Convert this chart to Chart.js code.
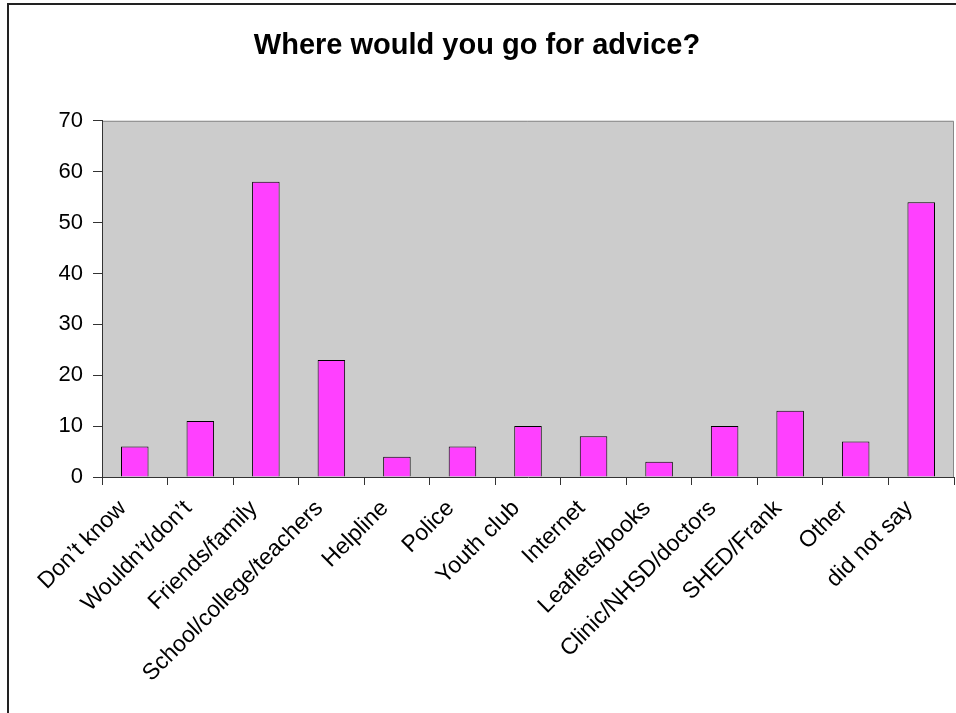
<!DOCTYPE html>
<html>
<head>
<meta charset="utf-8">
<script src="https://cdn.jsdelivr.net/npm/chart.js@4"></script>
<style>
  body { margin: 0; background: #fff; }
  #wrap { position: relative; width: 956px; height: 713px; }
  #frame { position: absolute; left: 7px; top: 3px; width: 960px; height: 720px;
           border-left: 2px solid #222; border-top: 2px solid #222; box-sizing: border-box; }
</style>
</head>
<body>
<div id="wrap">
  <div id="frame"></div>
  <canvas id="myChart" width="956" height="713"></canvas>
</div>
<script>
const categories = ["Don\u2019t know", "Wouldn\u2019t/don\u2019t", "Friends/family", "School/college/teachers",
  "Helpline", "Police", "Youth club", "Internet", "Leaflets/books", "Clinic/NHSD/doctors",
  "SHED/Frank", "Other", "did not say"];
const counts = [6, 11, 58, 23, 4, 6, 10, 8, 3, 10, 13, 7, 54];
const yTicks = [0, 10, 20, 30, 40, 50, 60, 70];

const font = "Arial, 'Liberation Sans', sans-serif";

// gray plot area with a thin gray top/right edge
const plotBg = {
  id: 'plotBg',
  beforeDraw(chart) {
    const {ctx, chartArea: a} = chart;
    ctx.save();
    ctx.fillStyle = '#cccccc';
    ctx.fillRect(a.left, a.top, a.right - a.left, a.bottom - a.top);
    ctx.strokeStyle = '#888888';
    ctx.lineWidth = 1;
    ctx.beginPath();
    ctx.moveTo(a.left, a.top + 0.5);
    ctx.lineTo(a.right - 0.5, a.top + 0.5);
    ctx.lineTo(a.right - 0.5, a.bottom);
    ctx.stroke();
    ctx.restore();
  }
};

const ctx = document.getElementById('myChart');

new Chart(ctx, {
  type: 'bar',
  data: {
    labels: categories,
    datasets: [{
      data: counts,
      backgroundColor: '#ff40ff',
      borderColor: '#000000',
      borderWidth: 1,
      categoryPercentage: 1,
      barPercentage: 0.42
    }]
  },
  options: {
    responsive: false,
    animation: false,
    layout: { padding: { left: 0, right: 2, top: 0, bottom: 0 } },
    plugins: {
      legend: { display: false },
      tooltip: { enabled: false },
      title: {
        display: true,
        text: 'Where would you go for advice?',
        color: '#000',
        font: { family: font, size: 29, weight: 'bold' },
        padding: { top: 29, bottom: 57 }
      }
    },
    scales: {
      x: {
        afterFit(scale) { scale.height = 236; },
        grid: { offset: true, drawOnChartArea: false, drawTicks: true, tickLength: 8, color: '#333' },
        border: { color: '#333', width: 1 },
        ticks: {
          color: '#000',
          font: { family: font, size: 23 },
          minRotation: 45,
          maxRotation: 45,
          autoSkip: false,
          padding: 10,
          labelOffset: -12
        }
      },
      y: {
        min: 0,
        max: 70,
        afterFit(scale) { scale.width = 102; },
        afterBuildTicks(scale) { scale.ticks = yTicks.map(v => ({value: v})); },
        grid: { drawOnChartArea: false, drawTicks: true, tickLength: 9, color: '#333' },
        border: { color: '#333', width: 1 },
        ticks: {
          color: '#000',
          font: { family: font, size: 22 },
          padding: 10
        }
      }
    }
  },
  plugins: [plotBg]
});
</script>
</body>
</html>
